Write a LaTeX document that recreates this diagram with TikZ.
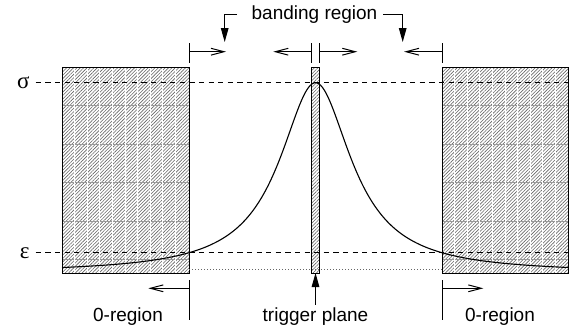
\documentclass[tikz,border=0pt]{standalone}
\usepackage{fontspec}
\setmainfont{Liberation Sans}
\newfontfamily\greekfont{Liberation Serif}
\usetikzlibrary{arrows.meta, patterns.meta}
\tikzset{
  hatch fill/.style={
    pattern={Lines[angle=45, distance=1.2pt, line width=0.3pt]},
    pattern color=black!60
  },
  region box/.style={
    hatch fill,
    draw=black,
    line width=0.5pt
  },
  level line/.style={
    dash pattern=on 2.6pt off 2.2pt,
    line width=0.5pt
  },
  floor line/.style={
    dash pattern=on 0.5pt off 1pt,
    line width=0.4pt,
    color=black!60
  },
  dim tick/.style={
    line width=0.5pt
  },
  dim arrow/.style={
    -{Straight Barb[length=6.5pt, width=3.4pt]},
    line width=0.5pt
  },
  pointer/.style={
    -{Triangle[length=7pt, width=3.8pt]},
    line width=0.5pt
  },
  label text/.style={
    font=\fontsize{9.5}{11}\selectfont,
    inner sep=0pt
  },
  level label/.style={
    font=\greekfont\fontsize{11.5}{12}\selectfont,
    anchor=east,
    inner sep=0pt
  }
}

\begin{document}
\begin{tikzpicture}[x=0.5pt, y=-0.5pt]
    \useasboundingbox (0,0) rectangle (572,328);

    % Blöcke (links, rechts) und Triggerebene
    \coordinate (L1) at (62,67);    \coordinate (L2) at (189,273);
    \coordinate (R1) at (442,67);   \coordinate (R2) at (568.5,273);
    \coordinate (P1) at (311.7,67); \coordinate (P2) at (319.3,273);

    \fill[hatch fill] (L1) rectangle (L2);
    \fill[hatch fill] (R1) rectangle (R2);
    % Raster in den Blöcken
    \foreach \xo in {62, 442} {
      \foreach \j in {1,...,5}
        \draw[black!40, line width=0.4pt] (\xo,{67+38.5*\j}) -- ({\xo+126.5},{67+38.5*\j});
      \foreach \i in {1,...,9}
        \draw[white, line width=0.5pt] ({\xo+12.6*\i},67.4) -- ({\xo+12.6*\i},272.6);
    }
    \draw[line width=0.5pt] (L1) rectangle (L2);
    \draw[line width=0.5pt] (R1) rectangle (R2);

    % Grundlinie (gepunktet)
    \draw[floor line] (L2 |- 0,269) -- (R1 |- 0,269);
    \draw[region box] (P1) rectangle (P2);

    % Pegel sigma und epsilon
    \node[level label] (sigma) at (30,82.7) {σ};
    \node[level label] (eps) at (30,252.7) {ε};
    \draw[level line] ([xshift=2.85pt]sigma.east) -- (sigma.east -| R2);
    \draw[level line] ([xshift=2.85pt]eps.east) -- (eps.east -| R2);

    % Verlauf
    \draw[line width=0.55pt] plot[domain=62:568.5, samples=250, smooth]
      (\x, {273-190.3/(1+((\x-315.5)/43.7)*((\x-315.5)/43.7))});

    % Bandbereich oben
    \foreach \xt in {189, 311.7, 319.3, 442}
      \draw[dim tick] (\xt,43) -- (\xt,63);
    \draw[dim arrow] (189,51.7) -- (226,51.7);
    \draw[dim arrow] (311.7,51.7) -- (273.3,51.7);
    \draw[dim arrow] (319.3,51.7) -- (357.3,51.7);
    \draw[dim arrow] (442,51.7) -- (404,51.7);

    \node[label text] (band) at (314.5,14.5) {banding region};
    \draw[pointer] (237,14.5) -| (224.7,42);
    \draw[pointer] (383.3,14.5) -| (402.7,42);

    % 0-Bereiche unten
    \foreach \xt in {189, 442}
      \draw[dim tick] (\xt,280) -- (\xt,320);
    \draw[dim arrow] (189,288.3) -- (148.3,288.3);
    \draw[dim arrow] (442,288.3) -- (483.3,288.3);

    \node[label text, anchor=base] (zeroL) at (128,321.5) {0-region};
    \node[label text, anchor=base] (zeroR) at (500,321.5) {0-region};
    \node[label text, anchor=base] (trig) at (315.5,321.5) {trigger plane};
    \draw[pointer] ([yshift=1.3pt]trig.north) -- (trig.north |- P2);

\end{tikzpicture}
\end{document}
